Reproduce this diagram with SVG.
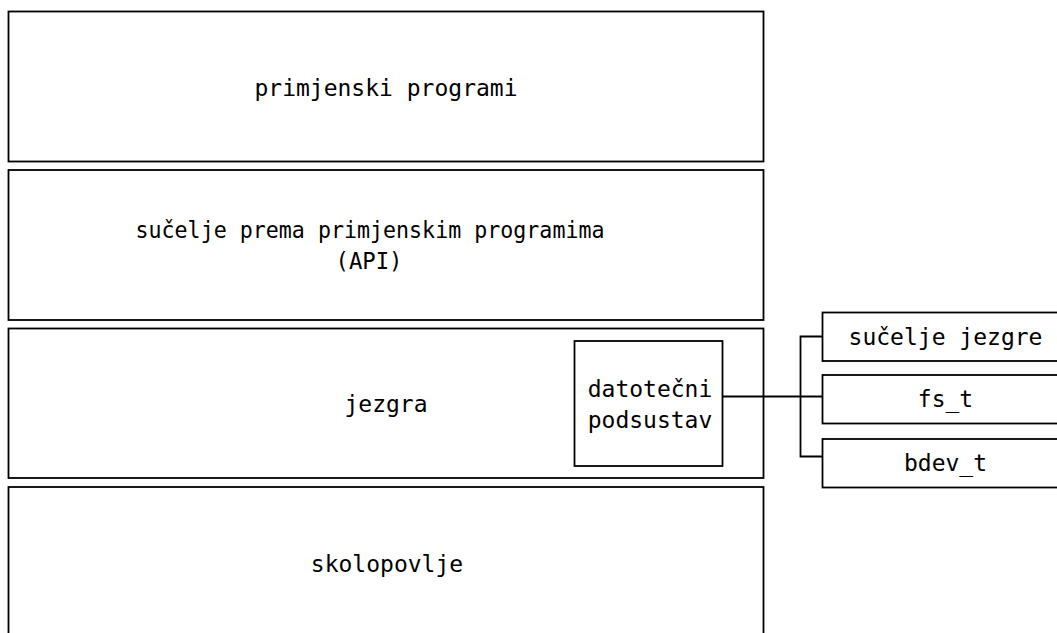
<svg xmlns="http://www.w3.org/2000/svg" width="1057" height="633" viewBox="0 0 1057 633">
  <style>
    .box { fill: #ffffff; stroke: #000000; stroke-width: 1.8; }
    .wire { fill: none; stroke: #000000; stroke-width: 1.8; }
    .lbl { font-family: "DejaVu Sans Mono", "Liberation Mono", monospace; font-size: 23px; fill: #000000; text-anchor: middle; }
  </style>
  <rect width="1057" height="633" fill="#ffffff"/>

  <!-- layer stack -->
  <g id="layer-apps">
    <rect class="box" x="8.5" y="11.5" width="755" height="150"/>
    <text class="lbl" x="386" y="96">primjenski programi</text>
  </g>
  <g id="layer-api">
    <rect class="box" x="8.5" y="170" width="755" height="150"/>
    <text class="lbl" x="370" y="238" textLength="469" lengthAdjust="spacingAndGlyphs">sučelje prema primjenskim programima</text>
    <text class="lbl" x="369" y="269" textLength="67" lengthAdjust="spacingAndGlyphs">(API)</text>
  </g>
  <g id="layer-kernel">
    <rect class="box" x="8.5" y="328.5" width="755" height="149.5"/>
    <text class="lbl" x="386" y="412">jezgra</text>
  </g>
  <g id="layer-hardware">
    <rect class="box" x="8.5" y="487" width="755" height="160"/>
    <text class="lbl" x="387" y="572">skolopovlje</text>
  </g>

  <!-- file subsystem inside the kernel -->
  <g id="fs-subsystem">
    <rect class="box" x="574.5" y="341" width="148" height="125"/>
    <text class="lbl" x="650" y="397">datotečni</text>
    <text class="lbl" x="650" y="428">podsustav</text>
  </g>

  <!-- connectors -->
  <g id="connectors">
    <path class="wire" d="M722.5 396.5 H822.5"/>
    <path class="wire" d="M822.5 336.5 H800.5 V456.5 H822.5"/>
  </g>

  <!-- subsystem parts -->
  <g id="part-kernel-iface">
    <rect class="box" x="822.5" y="312.5" width="250" height="48.5"/>
    <text class="lbl" x="945.5" y="345">sučelje jezgre</text>
  </g>
  <g id="part-fs_t">
    <rect class="box" x="822.5" y="375" width="250" height="48.5"/>
    <text class="lbl" x="945.5" y="407">fs_t</text>
  </g>
  <g id="part-bdev_t">
    <rect class="box" x="822.5" y="439" width="250" height="48.5"/>
    <text class="lbl" x="945.5" y="471">bdev_t</text>
  </g>
</svg>
